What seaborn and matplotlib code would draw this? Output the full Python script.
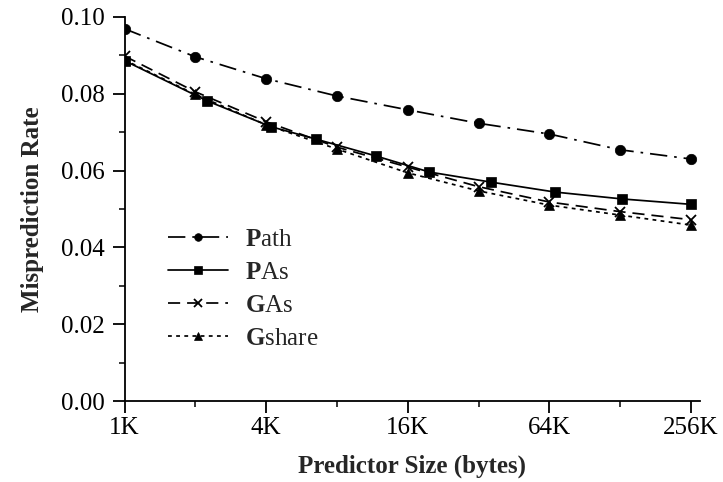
import matplotlib
matplotlib.use("Agg")
import matplotlib.pyplot as plt
import seaborn as sns
import pandas as pd

# Predictor sizes in KB and misprediction rates per scheme
path_size = [1, 2, 4, 8, 16, 32, 64, 128, 256]
path_rate = [0.0969, 0.0896, 0.0839, 0.0794, 0.0758, 0.0723, 0.0695, 0.0654, 0.0630]

pas_size = [1, 2.25, 4.2, 6.5, 11.7, 19.8, 36, 67.6, 130.7, 256]
pas_rate = [0.0886, 0.0781, 0.0714, 0.0682, 0.0638, 0.0596, 0.0570, 0.0544, 0.0526, 0.0512]

gas_size = [1, 2, 4, 8, 16, 32, 64, 128, 256]
gas_rate = [0.0898, 0.0805, 0.0727, 0.0661, 0.0609, 0.0558, 0.0518, 0.0493, 0.0472]

gshare_size = [1, 2, 4, 8, 16, 32, 64, 128, 256]
gshare_rate = [0.0888, 0.0798, 0.0719, 0.0656, 0.0594, 0.0547, 0.0510, 0.0484, 0.0458]

tick_sizes = [1, 4, 16, 64, 256]
tick_labels = ["1K", "4K", "16K", "64K", "256K"]
minor_sizes = [2, 8, 32, 128]
y_ticks = [0.00, 0.02, 0.04, 0.06, 0.08, 0.10]
y_minor = [0.01, 0.03, 0.05, 0.07, 0.09]

sns.set_style("ticks")
plt.rcParams["font.family"] = ["Liberation Serif", "DejaVu Serif"]
plt.rcParams["mathtext.fontset"] = "custom"
plt.rcParams["mathtext.rm"] = "Liberation Serif"
plt.rcParams["mathtext.bf"] = "Liberation Serif:bold"

FS = 18

fig = plt.figure(figsize=(7.23, 4.82), dpi=100)
ax = fig.add_axes([0.1722, 0.168, 0.7962, 0.797])

series = [
    (path_size, path_rate, r"$\mathbf{P}$ath", "o", 7.5, (0, (10, 4, 1.5, 4))),
    (pas_size, pas_rate, r"$\mathbf{P}$As", "s", 6.5, "-"),
    (gas_size, gas_rate, r"$\mathbf{G}$As", "x", 7, (0, (7, 4))),
    (gshare_size, gshare_rate, r"$\mathbf{G}$share", "^", 6.5, (0, (2.2, 2.5))),
]

for sizes, rates, label, marker, msize, ls in series:
    df = pd.DataFrame({"size": sizes, "rate": rates})
    sns.lineplot(data=df, x="size", y="rate", ax=ax, color="black",
                 marker=marker, markersize=msize, markeredgecolor="black",
                 markeredgewidth=1.3 if marker == "x" else 0.5,
                 linestyle=ls, linewidth=1.25, label=label)

ax.set_xscale("log", base=2)
ax.set_xlim(1, 2 ** 8.13)
ax.set_ylim(0, 0.10)
ax.set_xticks(tick_sizes)
ax.set_xticklabels(tick_labels)
ax.set_xticks(minor_sizes, minor=True)
ax.set_xticklabels([], minor=True)
ax.set_yticks(y_ticks)
ax.set_yticklabels([f"{v:.2f}" for v in y_ticks])
ax.set_yticks(y_minor, minor=True)

ax.tick_params(axis="both", which="major", direction="out", length=8.5, width=1.3,
               labelsize=FS, colors="black")
ax.tick_params(axis="both", which="minor", direction="out", length=4, width=1.3)
ax.tick_params(axis="x", which="major", pad=3)
ax.tick_params(axis="y", which="major", pad=6)

for side in ["top", "right"]:
    ax.spines[side].set_visible(False)
for side in ["left", "bottom"]:
    ax.spines[side].set_linewidth(1.3)
    ax.spines[side].set_color("black")

ax.set_xlabel("Predictor Size (bytes)", fontsize=FS, fontweight="bold", labelpad=11)
ax.set_ylabel("Misprediction Rate", fontsize=FS, fontweight="bold", labelpad=12)

leg = ax.legend(loc="center left", bbox_to_anchor=(0.075, 0.292), frameon=False,
                fontsize=FS, handlelength=2.4, handletextpad=0.7,
                labelspacing=0.42, borderpad=0, borderaxespad=0)
for h in leg.legend_handles:
    h.set_markersize(5.5)

fig.savefig("out.png", dpi=100)
